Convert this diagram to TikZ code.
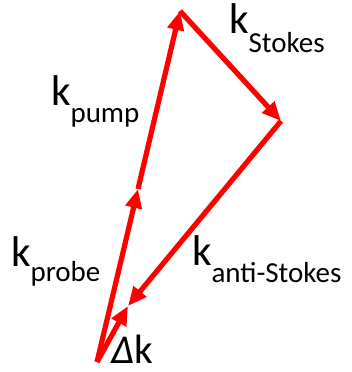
\documentclass[tikz,border=0pt]{standalone}
\usepackage{fontspec}
\setmainfont{Carlito}
\usetikzlibrary{arrows.meta}
\tikzset{
  vec/.style={draw={rgb,255:red,255;green,0;blue,0}, line width=5.2pt, -{Triangle[length=19pt,width=16pt]}},
  lbl/.style={anchor=base west, inner sep=0pt, outer sep=0pt, font=\fontsize{43}{43}\selectfont},
}
\newcommand{\sbx}[2]{\raisebox{-#1pt}{\fontsize{29}{29}\selectfont #2}}
\begin{document}
\begin{tikzpicture}[x=1pt,y=-1pt]
\useasboundingbox (0,0) rectangle (352,372);
\coordinate (O) at (97,362);
\coordinate (P) at (138,189);
\coordinate (T) at (180,11);
\coordinate (S) at (281,121);
\coordinate (A) at (128,306);
\draw[vec] (O) -- (P);
\draw[vec] (P) -- (T);
\draw[vec] (T) -- (S);
\draw[vec] (S) -- (A);
\draw[vec] (O) -- (A);
\node[lbl] (ks) at (229,33) {k\sbx{19}{Stokes}};
\node[lbl] (kp) at (51,105) {k\sbx{17}{pump}};
\node[lbl] (kpr) at (11,266) {k\sbx{15}{probe}};
\node[lbl] (kas) at (192,265) {k\sbx{17}{anti-Stokes}};
\node[lbl, font=\fontsize{41}{41}\selectfont] (dk) at (111,363) {\textit{Δ}k};
\end{tikzpicture}
\end{document}
